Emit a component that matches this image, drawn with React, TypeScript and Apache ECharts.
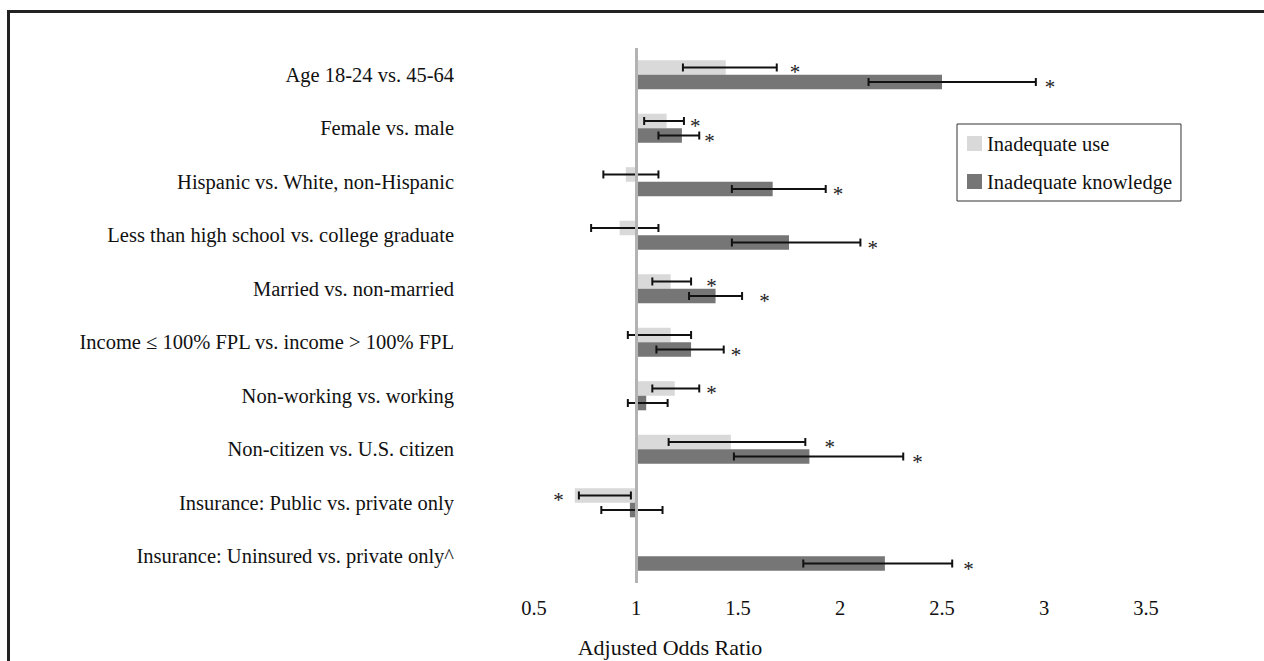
import React, { useEffect, useRef } from "react";
import * as echarts from "echarts";

const categories = [
  "Age 18-24 vs. 45-64",
  "Female vs. male",
  "Hispanic vs. White, non-Hispanic",
  "Less than high school vs. college graduate",
  "Married vs. non-married",
  "Income \u2264 100% FPL vs. income > 100% FPL",
  "Non-working vs. working",
  "Non-citizen vs. U.S. citizen",
  "Insurance: Public vs. private only",
  "Insurance: Uninsured vs. private only^",
];

const useOR = [1.44, 1.15, 0.95, 0.92, 1.17, 1.17, 1.19, 1.465, 0.7, null];
const useLo = [1.23, 1.04, 0.84, 0.78, 1.08, 0.96, 1.08, 1.16, 0.72, null];
const useHi = [1.69, 1.235, 1.11, 1.11, 1.27, 1.27, 1.31, 1.83, 0.975, null];
const useStar = [1.78, 1.29, null, null, 1.37, null, 1.37, 1.95, 0.62, null];

const knowOR = [2.5, 1.225, 1.67, 1.75, 1.39, 1.27, 1.05, 1.85, 0.97, 2.22];
const knowLo = [2.14, 1.11, 1.47, 1.47, 1.26, 1.1, 0.96, 1.48, 0.83, 1.82];
const knowHi = [2.96, 1.31, 1.93, 2.1, 1.52, 1.43, 1.155, 2.31, 1.13, 2.55];
const knowStar = [3.03, 1.36, 1.99, 2.16, 1.63, 1.49, null, 2.38, null, 2.63];

const xTicks = [0.5, 1, 1.5, 2, 2.5, 3, 3.5];

const FONT = '"Liberation Serif", "Times New Roman", serif';
const FS = 20.5;

function buildData(or: (number | null)[], lo: (number | null)[], hi: (number | null)[], star: (number | null)[]) {
  const out: any[] = [];
  or.forEach((v, i) => {
    if (v == null) return;
    out.push([i, v, lo[i], hi[i], star[i] == null ? -1 : star[i]]);
  });
  return out;
}

function makeRender(position: "top" | "bottom", color: string) {
  return (params: any, api: any) => {
    const cat = api.value(0);
    const or = api.value(1);
    const lo = api.value(2);
    const hi = api.value(3);
    const star = api.value(4);
    const base = api.coord([1, cat]);
    const end = api.coord([or, cat]);
    const band = api.size([0, 1])[1];
    const h = band * 0.272;
    const yTop = position === "top" ? base[1] - h : base[1];
    const yMid = yTop + h / 2;
    const children: any[] = [
      {
        type: "rect",
        shape: { x: Math.min(base[0], end[0]), y: yTop, width: Math.abs(end[0] - base[0]), height: h },
        style: { fill: color },
      },
    ];
    const pLo = api.coord([lo, cat]);
    const pHi = api.coord([hi, cat]);
    const cap = 4;
    const ls = { stroke: "#111", lineWidth: 2 };
    children.push({ type: "line", shape: { x1: pLo[0], y1: yMid, x2: pHi[0], y2: yMid }, style: ls });
    children.push({ type: "line", shape: { x1: pLo[0], y1: yMid - cap, x2: pLo[0], y2: yMid + cap }, style: ls });
    children.push({ type: "line", shape: { x1: pHi[0], y1: yMid - cap, x2: pHi[0], y2: yMid + cap }, style: ls });
    if (star > 0) {
      const ps = api.coord([star, cat]);
      children.push({
        type: "text",
        style: {
          x: ps[0],
          y: yMid + 5,
          text: "*",
          fill: "#222",
          font: `21px ${FONT}`,
          align: "center",
          verticalAlign: "middle",
        },
      });
    }
    return { type: "group", children };
  };
}

export default function App() {
  const ref = useRef<HTMLDivElement>(null);
  useEffect(() => {
    if (!ref.current) return;
    const chart = echarts.init(ref.current, null, { renderer: "svg" });
    chart.setOption({
      animation: false,
      backgroundColor: "#ffffff",
      textStyle: { fontFamily: FONT },
      grid: { left: 534, right: 16, top: 48, bottom: 78, containLabel: false },
      legend: {
        orient: "vertical",
        left: 957,
        top: 124,
        padding: [9, 9, 9, 10],
        borderColor: "#333",
        borderWidth: 1,
        itemWidth: 15,
        itemHeight: 15,
        itemGap: 17,
        icon: "rect",
        textStyle: { fontFamily: FONT, fontSize: FS, color: "#111" },
        data: ["Inadequate use", "Inadequate knowledge"],
      },
      xAxis: {
        type: "value",
        min: 0.5,
        max: 4,
        interval: 0.5,
        axisLine: { show: false },
        axisTick: { show: false },
        splitLine: { show: false },
        axisLabel: {
          margin: 14,
          fontFamily: FONT,
          fontSize: FS,
          color: "#111",
          formatter: (v: number) => (xTicks.includes(v) ? String(v) : ""),
        },
      },
      yAxis: {
        type: "category",
        inverse: true,
        data: categories,
        axisLine: { show: false },
        axisTick: { show: false },
        splitLine: { show: false },
        axisLabel: { margin: 80, fontFamily: FONT, fontSize: FS, color: "#111" },
      },
      graphic: [
        {
          type: "rect",
          shape: { x: 8.5, y: 11.5, width: 1400, height: 800 },
          style: { fill: "none", stroke: "#222", lineWidth: 3 },
          silent: true,
        },
        {
          type: "text",
          x: 670,
          y: 647,
          style: {
            text: "Adjusted Odds Ratio",
            font: `22px ${FONT}`,
            fill: "#111",
            align: "center",
            verticalAlign: "middle",
          },
        },
      ],
      series: [
        {
          name: "Inadequate use",
          type: "custom",
          itemStyle: { color: "#d9d9d9" },
          renderItem: makeRender("top", "#d9d9d9"),
          data: buildData(useOR, useLo, useHi, useStar),
          encode: { x: [1, 2, 3], y: 0 },
          z: 2,
        },
        {
          name: "Inadequate knowledge",
          type: "custom",
          itemStyle: { color: "#767676" },
          renderItem: makeRender("bottom", "#767676"),
          data: buildData(knowOR, knowLo, knowHi, knowStar),
          encode: { x: [1, 2, 3], y: 0 },
          z: 2,
          markLine: {
            silent: true,
            symbol: ["none", "none"],
            label: { show: false },
            lineStyle: { color: "#b3b3b3", width: 3, type: "solid" },
            data: [{ xAxis: 1 }],
            z: 3,
          },
        },
      ],
    });
    return () => chart.dispose();
  }, []);
  return (
    <div
      ref={ref}
      style={{ position: "absolute", left: 0, top: 0, width: 1264, height: 661 }}
    />
  );
}
